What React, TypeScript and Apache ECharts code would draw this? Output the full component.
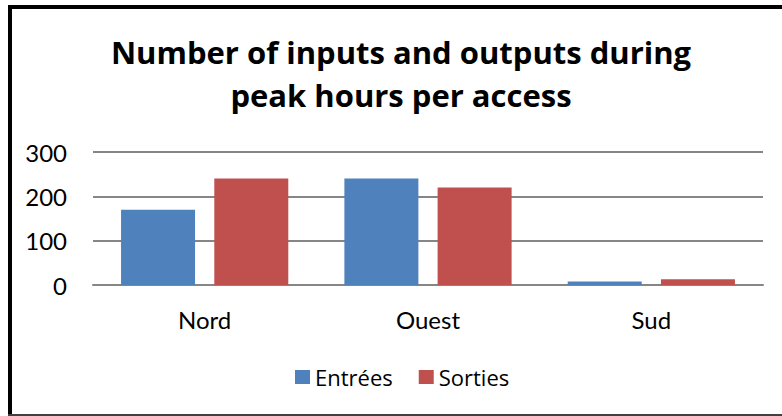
import React, { useEffect, useRef } from "react";
import * as echarts from "echarts";

const categories = ["Nord", "Ouest", "Sud"];
const entrees = [170, 240, 8];
const sorties = [240, 220, 13];
const seriesNames = ["Entrées", "Sorties"];
const titleText = "Number of inputs and outputs during\npeak hours per access";

export default function App() {
  const ref = useRef<HTMLDivElement>(null);
  useEffect(() => {
    if (!ref.current) return;
    const chart = echarts.init(ref.current, undefined, { renderer: "svg" });
    const font = "Lato, 'Open Sans', sans-serif";
    const titleFont = "'Open Sans', Lato, sans-serif";
    chart.setOption({
      animation: false,
      backgroundColor: "#ffffff",
      title: {
        text: titleText,
        left: 396,
        textAlign: "center",
        top: 25,
        textStyle: {
          fontFamily: titleFont,
          fontWeight: "bold",
          fontSize: 31,
          lineHeight: 43,
          color: "#000000",
        },
      },
      legend: {
        left: 290,
        top: 361,
        itemWidth: 15,
        itemHeight: 14,
        itemGap: 26,
        icon: "rect",
        textStyle: { fontFamily: titleFont, fontSize: 22, color: "#000000" },
        data: seriesNames,
      },
      grid: { left: 93, right: 19, top: 152, bottom: 131, containLabel: false },
      xAxis: {
        type: "category",
        data: categories,
        axisLine: { lineStyle: { color: "#868686", width: 2 } },
        axisTick: { show: false },
        axisLabel: { fontFamily: font, fontSize: 24, color: "#000000", margin: 22 },
      },
      yAxis: {
        type: "value",
        min: 0,
        max: 300,
        interval: 100,
        axisLine: { show: false },
        axisTick: { show: false },
        axisLabel: { fontFamily: font, fontSize: 24, color: "#000000", margin: 26 },
        splitLine: { lineStyle: { color: "#868686", width: 2 } },
      },
      series: [
        {
          name: seriesNames[0],
          type: "bar",
          data: entrees,
          barWidth: 74,
          barGap: "26%",
          itemStyle: { color: "#4F81BD" },
        },
        {
          name: seriesNames[1],
          type: "bar",
          data: sorties,
          barWidth: 74,
          barGap: "26%",
          itemStyle: { color: "#C0504D" },
        },
      ],
      graphic: [
        { type: "rect", shape: { x: 8, y: 5, width: 780, height: 4 }, style: { fill: "#000000" } },
        { type: "rect", shape: { x: 8, y: 5, width: 4, height: 411 }, style: { fill: "#000000" } },
        { type: "rect", shape: { x: 8, y: 414, width: 780, height: 2 }, style: { fill: "#404040" } },
      ],
    });
    return () => chart.dispose();
  }, []);
  return (
    <div
      ref={ref}
      style={{ position: "absolute", left: 0, top: 0, width: 782, height: 416 }}
    />
  );
}
